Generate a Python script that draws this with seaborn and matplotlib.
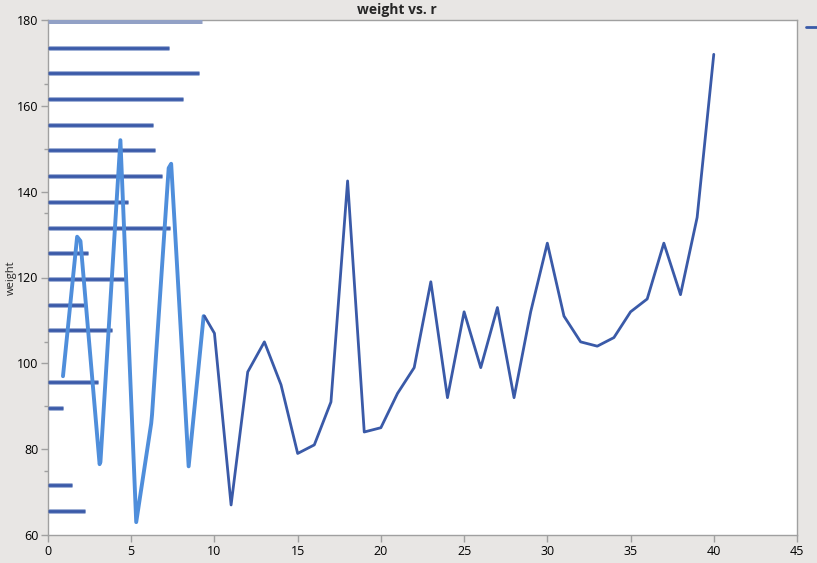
import matplotlib
matplotlib.use("Agg")
import matplotlib.pyplot as plt
import seaborn as sns
import pandas as pd
from matplotlib.ticker import MultipleLocator
from matplotlib.lines import Line2D

# === data ===
# main series (dark blue)
r_main = [9.4, 10, 11, 12, 13, 14, 15, 16, 17, 18, 19, 20, 21, 22, 23, 24, 25,
          26, 27, 28, 29, 30, 31, 32, 33, 34, 35, 36, 37, 38, 39, 40]
w_main = [111, 107, 67, 98, 105, 95, 79, 81, 91, 142.5, 84, 85, 93, 99, 119, 92, 112,
          99, 113, 92, 112, 128, 111, 105, 104, 106, 112, 115, 128, 116, 134, 172]

# squeezed light-blue trace on the left
r_left = [0.9, 1.75, 1.95, 3.1, 3.15, 4.35, 5.3, 6.2, 6.25, 7.25, 7.4, 8.45, 9.35]
w_left = [97, 129.5, 128.5, 76.5, 77, 152, 63, 86, 88, 145.5, 146.5, 76, 111]

# horizontal bars along the left edge
bar_w = [173.5, 167.7, 161.6, 155.6, 149.6, 143.7, 137.6, 131.6, 125.6,
         119.7, 113.6, 107.7, 95.7, 89.7, 71.7, 65.7]
bar_len = [7.29, 9.07, 8.09, 6.31, 6.45, 6.83, 4.79, 7.33, 2.42,
           4.65, 2.18, 3.83, 3.02, 0.88, 1.42, 2.22]
top_bar_w = 179.7
top_bar_len = 9.24

df_main = pd.DataFrame({"r": r_main, "weight": w_main})
df_left = pd.DataFrame({"r": r_left, "weight": w_left})

sns.set_style("white")
plt.rcParams["font.family"] = ["Open Sans", "DejaVu Sans"]

dark = "#3a5aa8"
light = "#4f8edb"
grey = "#a0a0a0"

fig = plt.figure(figsize=(8.17, 5.63), dpi=100, facecolor="#e8e6e4")
ax = fig.add_axes([48 / 817, 1 - 535 / 563, (797 - 48) / 817, (535 - 20) / 563])
ax.set_facecolor("white")

# bars: soft halo + core line
ax.hlines(bar_w, 0, bar_len, color="#9fb0d6", lw=3.6, zorder=2)
ax.hlines(bar_w, 0, bar_len, color=dark, lw=2.0, zorder=3)
ax.hlines([top_bar_w], 0, [top_bar_len], color="#92a1c6", lw=3.6, zorder=3)

sns.lineplot(data=df_left, x="r", y="weight", ax=ax, color=light, lw=2.8,
             sort=False, zorder=4)
sns.lineplot(data=df_main, x="r", y="weight", ax=ax, color=dark, lw=2.0,
             sort=False, zorder=4)

ax.set_xlim(0, 45)
ax.set_ylim(60, 180)
ax.xaxis.set_major_locator(MultipleLocator(5))
ax.yaxis.set_major_locator(MultipleLocator(20))
ax.yaxis.set_minor_locator(MultipleLocator(15))

for s in ax.spines.values():
    s.set_color(grey)
    s.set_linewidth(1.0)

ax.tick_params(axis="both", which="major", direction="out", length=5, width=1,
               color=grey, labelsize=9, labelcolor="black", pad=2,
               bottom=True, left=True)
ax.tick_params(axis="y", which="minor", direction="out", length=3, width=1,
               color=grey, left=True)

ax.set_xlabel("")
ax.set_ylabel("weight", fontsize=8, va="center")
ax.yaxis.set_label_coords(-37 / 749, 0.5)

fig.text(397 / 817, 1 - 10 / 563, "weight vs. r", ha="center", va="center",
         fontsize=10, fontweight="bold")

# legend swatch cut off at the right edge
leg = ax.legend(handles=[Line2D([], [], color=dark, lw=2)], labels=[" "],
                loc="upper left", bbox_to_anchor=(1.0, 1.012), frameon=False,
                handlelength=1.6, borderaxespad=0.4, fontsize=8)

fig.savefig("out.png", dpi=100, facecolor=fig.get_facecolor())
